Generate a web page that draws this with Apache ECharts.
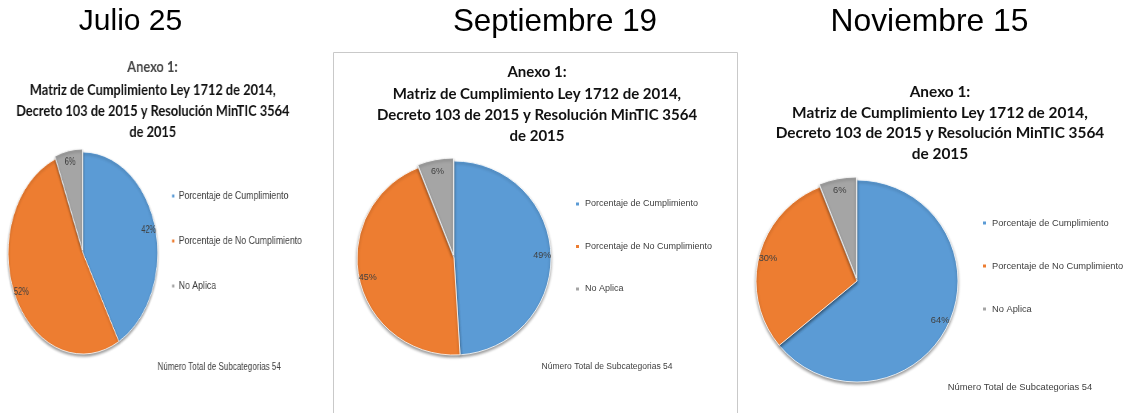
<!DOCTYPE html>
<html>
<head>
<meta charset="utf-8">
<script src="https://cdn.jsdelivr.net/npm/echarts@6/dist/echarts.min.js"></script>
<style>
  html, body { margin: 0; padding: 0; background: #fff; }
  .chart { position: absolute; left: 0; top: 0; height: 413px; transform-origin: 0 0; }
</style>
</head>
<body>
<div id="main" class="chart" style="width:1124px"></div>
<div id="p1text" class="chart" style="width:390px;transform:scaleX(0.8)"></div>
<div id="p1pie" class="chart" style="width:420px;transform:scaleX(0.74)"></div>
<script>
const headers = ['Julio 25', 'Septiembre 19', 'Noviembre 15'];
const categories = ['Porcentaje de Cumplimiento', 'Porcentaje de No Cumplimiento', 'No Aplica'];
const julio = [42, 52, 6];
const septiembre = [49, 45, 6];
const noviembre = [64, 30, 6];
const anexo = 'Anexo 1:';
const titleLines = ['Matriz de Cumplimiento Ley 1712 de 2014,', 'Decreto 103 de 2015 y Resolución MinTIC 3564', 'de 2015'];
const footnote = 'Número Total de Subcategorias 54';
const colors = ['#5B9BD5', '#ED7D31', '#A5A5A5'];

const titleFont = 'Lato';
const smallFont = 'Liberation Sans';
const headerX = [130.5, 555, 929.5];
const headerSize = [30, 31.4, 31.8];

// one pie + a transparent ring above it that only carries the % labels near the rim
function pieSeries(values, center, r, labelSize) {
  return [{
    type: 'pie',
    center: center,
    radius: r,
    startAngle: 90,
    animation: false,
    selectedMode: 'single',
    selectedOffset: 3,
    data: categories.map((name, i) => ({ name: name, value: values[i], selected: i === 2, itemStyle: { color: colors[i] } })),
    label: { show: false },
    labelLine: { show: false },
    itemStyle: { borderColor: '#fff', borderWidth: 0.8, shadowBlur: 3, shadowOffsetY: 2, shadowColor: 'rgba(0,0,0,0.4)' },
    select: { itemStyle: { borderColor: '#fff', borderWidth: 0.8 } },
    emphasis: { scale: false }
  }, {
    type: 'pie',
    z: 5,
    center: center,
    radius: [r * 0.76, r],
    startAngle: 90,
    animation: false,
    silent: true,
    data: categories.map((name, i) => ({ name: name, value: values[i] })),
    itemStyle: { color: 'rgba(0,0,0,0)' },
    label: { show: true, position: 'inside', formatter: '{c}%', fontSize: labelSize, fontFamily: smallFont, color: '#404040' },
    labelLine: { show: false },
    emphasis: { disabled: true }
  }];
}

function legendAt(left, top, gap, size, lh) {
  return {
    orient: 'vertical', left: left, top: top, itemGap: gap, padding: 0,
    icon: 'rect', itemWidth: 5, itemHeight: 5,
    data: categories,
    textStyle: { fontSize: size, fontFamily: smallFont, color: '#404040', lineHeight: lh }
  };
}

function titleBlock(cx, top, lh, size) {
  return {
    type: 'text', x: cx, y: top,
    style: {
      text: [anexo].concat(titleLines).join('\n'),
      fontSize: size, fontWeight: 'bold', fontFamily: titleFont, fill: '#111',
      lineHeight: lh, align: 'center', verticalAlign: 'top'
    }
  };
}

function footText(cx, y, size) {
  return { type: 'text', x: cx, y: y, style: { text: footnote, fontSize: size, fontFamily: smallFont, fill: '#404040', align: 'center', verticalAlign: 'middle' } };
}

const main = echarts.init(document.getElementById('main'));
main.setOption({
  animation: false,
  legend: [legendAt(574, 198, 30.5, 9, 12), legendAt(981, 217, 31, 9.3, 12)],
  series: pieSeries(septiembre, [454, 258], 97, 9).concat(pieSeries(noviembre, [857, 281], 101, 9.3)),
  graphic: headers.map((h, i) => ({
    type: 'text', x: headerX[i], y: 22,
    style: { text: h, fontSize: headerSize[i], fontFamily: smallFont, fill: '#000', align: 'center', verticalAlign: 'middle' }
  })).concat([
    { type: 'rect', shape: { x: 333.5, y: 52.5, width: 404, height: 380 }, style: { fill: 'none', stroke: '#c9c9c9', lineWidth: 1 } },
    titleBlock(537, 62, 21.3, 15),
    titleBlock(940, 82, 20.5, 15.4),
    footText(607, 367, 8.5),
    footText(1020, 387, 9.4)
  ])
});

// Julio panel: the source picture is squeezed sideways, so it is drawn wider and scaled down
const p1text = echarts.init(document.getElementById('p1text'));
p1text.setOption({
  animation: false,
  graphic: [
    { type: 'text', x: 190.6, y: 67, style: { text: anexo, fontSize: 16, fontWeight: 'bold', fontFamily: titleFont, fill: '#454545', align: 'center', verticalAlign: 'middle' } },
    { type: 'text', x: 191, y: 79.5, style: { text: titleLines.join('\n'), fontSize: 16, fontWeight: 'bold', fontFamily: titleFont, fill: '#111', lineHeight: 21, align: 'center', verticalAlign: 'top' } },
    footText(274, 367, 10)
  ]
});

const p1pie = echarts.init(document.getElementById('p1pie'));
p1pie.setOption({
  animation: false,
  legend: legendAt(230.5, 189, 31, 11.8, 14),
  series: pieSeries(julio, [112, 253], 101, 10)
});
</script>
</body>
</html>
